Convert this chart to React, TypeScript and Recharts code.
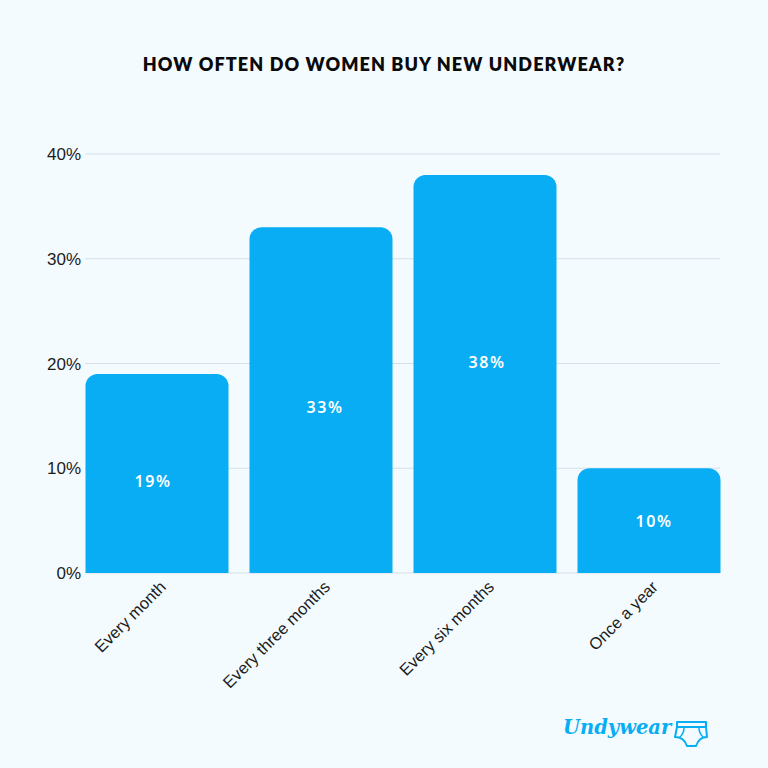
import { BarChart, Bar, CartesianGrid, LabelList, XAxis, YAxis } from "recharts";

const categories = ["Every month", "Every three months", "Every six months", "Once a year"];
const shares = [19, 33, 38, 10];
const yTicks = [0, 10, 20, 30, 40];
// the labels do not sit exactly mid-bar in the original
const labelNudgeX = [-4, 4, 2, 5];
const labelNudgeY = [8, 7, -12, 0];

const data = categories.map((name, i) => ({ name, share: shares[i] }));

const BLUE = "#08adf3";

function CategoryTick(props: any) {
  const { x, y, payload } = props;
  return (
    <text
      x={x + 10}
      y={y + 7}
      transform={`rotate(-45 ${x + 10} ${y + 7})`}
      textAnchor="end"
      fontFamily="Liberation Sans"
      fontSize={16.5}
      fill="#1c1c1c"
    >
      {payload.value}
    </text>
  );
}

function BarLabel(props: any) {
  const { x, y, width, height, value, index } = props;
  return (
    <text
      x={x + width / 2 + labelNudgeX[index]}
      y={y + height / 2 + labelNudgeY[index]}
      textAnchor="middle"
      dominantBaseline="central"
      fontFamily="Noto Sans"
      fontWeight={600}
      fontSize={16}
      letterSpacing={1.5}
      fill="#ffffff"
    >
      {value}%
    </text>
  );
}

export default function App() {
  return (
    <div style={{ position: "fixed", left: 0, top: 0, width: 768, height: 768, background: "#f3fbff", overflow: "hidden" }}>
      <div
        style={{
          position: "absolute",
          top: 52,
          width: 768,
          textAlign: "center",
          fontFamily: "Lato",
          fontWeight: 800,
          fontSize: 18,
          lineHeight: "24px",
          letterSpacing: 1.1,
          color: "#0a0a0a",
        }}
      >
        HOW OFTEN DO WOMEN BUY NEW UNDERWEAR?
      </div>
      <BarChart
        width={768}
        height={768}
        data={data}
        margin={{ top: 154, right: 37, bottom: 135, left: 0 }}
        barCategoryGap={10.5}
      >
        <CartesianGrid x={85} width={635} vertical={false} stroke="#d5dfe9" strokeWidth={1} />
        <XAxis dataKey="name" interval={0} height={60} axisLine={false} tickLine={false} tick={<CategoryTick />} />
        <YAxis
          width={75}
          domain={[0, 40]}
          ticks={yTicks}
          tickFormatter={(v: number) => `${v}%`}
          axisLine={false}
          tickLine={false}
          tick={{ fontFamily: "Liberation Sans", fontSize: 17, fill: "#1c1c1c", dx: 14 }}
        />
        <Bar dataKey="share" fill={BLUE} radius={[12, 12, 0, 0]} isAnimationActive={false}>
          <LabelList dataKey="share" content={<BarLabel />} />
        </Bar>
      </BarChart>
      <div
        style={{
          position: "absolute",
          left: 563,
          top: 710,
          fontFamily: "DejaVu Serif",
          fontStyle: "italic",
          fontWeight: 700,
          fontSize: 19.5,
          lineHeight: "36px",
          color: BLUE,
        }}
      >
        Undywear
      </div>
      <svg style={{ position: "absolute", left: 674, top: 720 }} width={34} height={28} viewBox="0 0 34 28" fill="none" stroke={BLUE} strokeWidth={2} strokeLinejoin="round">
        <path d="M3 2 H32 V7 H3 Z" />
        <path d="M3 7 L1 17 C7 17 11 20 13 26 H22 C24 20 28 17 33 17 L32 7" />
        <path d="M6 17 C9 14 10 11 10 8 M29 17 C26 14 25 11 25 8" strokeWidth={1.5} />
      </svg>
    </div>
  );
}
